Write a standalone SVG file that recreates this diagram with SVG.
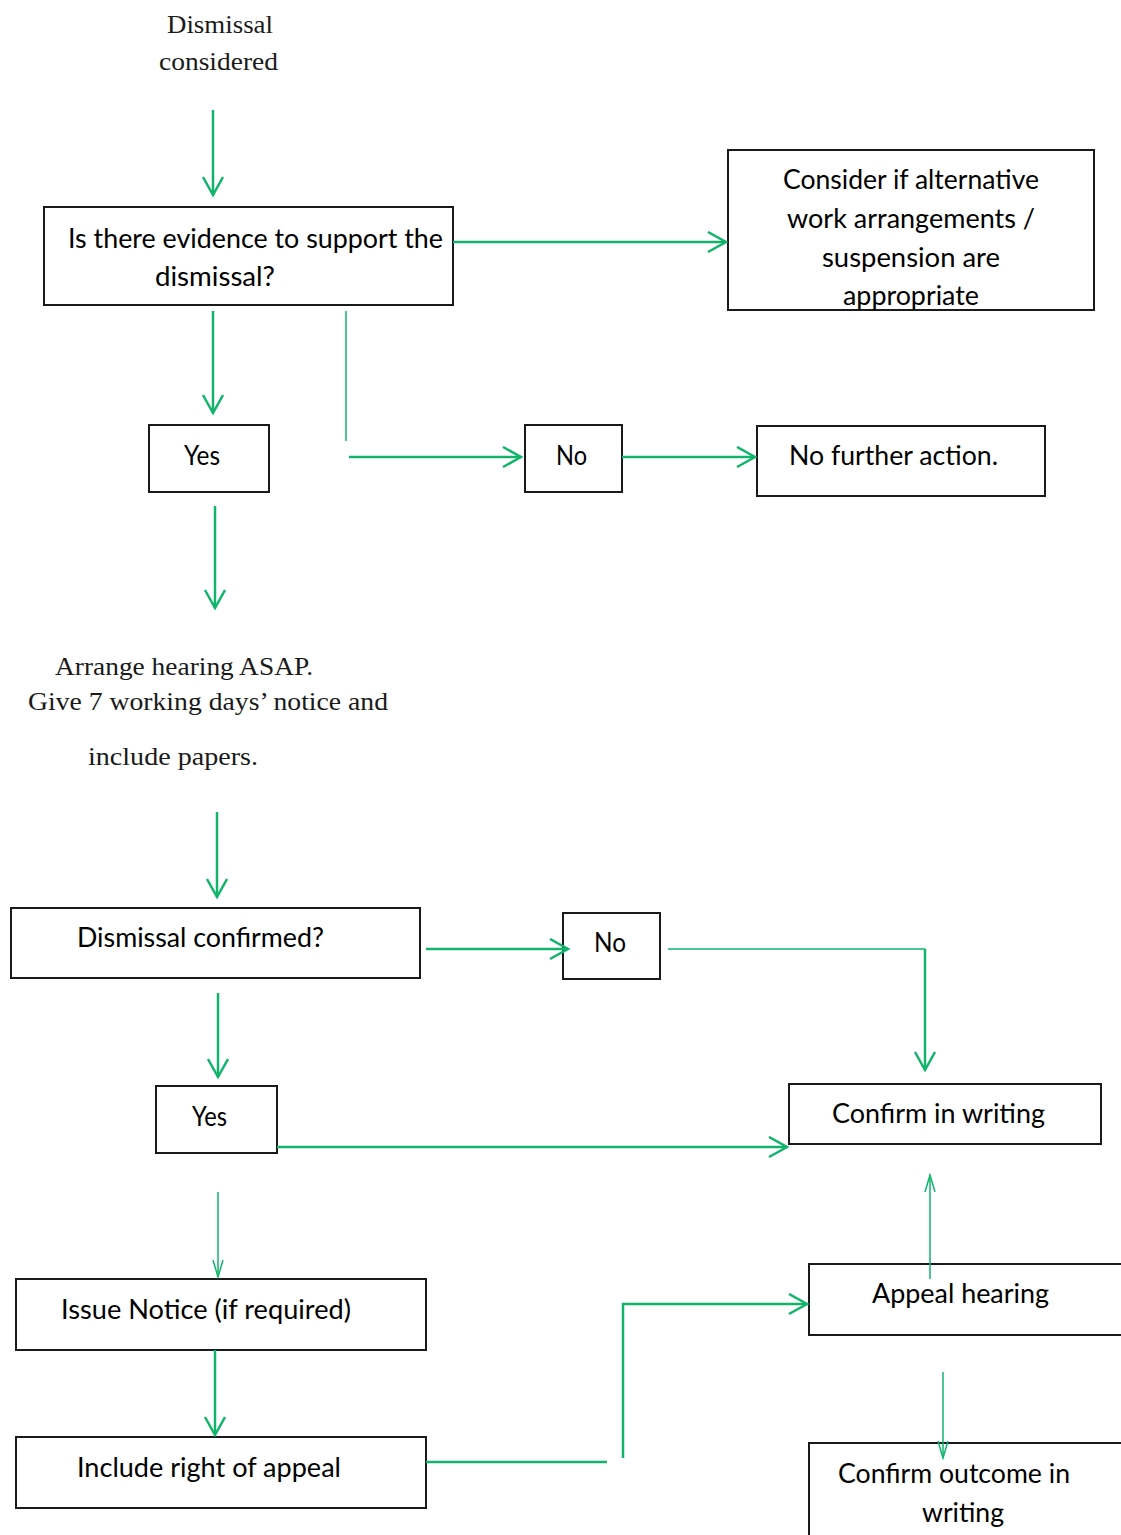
<svg xmlns="http://www.w3.org/2000/svg" width="1121" height="1535" viewBox="0 0 1121 1535">
<style>
.box{fill:#fff;stroke:#1a1a1a;stroke-width:2}
.t{font-family:Lato,"Open Sans","Liberation Sans",sans-serif;font-size:26px;fill:#000}
.s{font-family:"Liberation Serif","DejaVu Serif",serif;font-size:26px;fill:#1a1a1a}
.c{fill:none;stroke:#12b46c;stroke-width:2.5}
.ct{fill:none;stroke:#12b46c;stroke-width:1.5}
</style>
<defs>
<marker id="ah" markerUnits="userSpaceOnUse" markerWidth="22" markerHeight="24" refX="19" refY="11" orient="auto" viewBox="0 0 22 24">
<path d="M1,1 L19,11 L1,21" fill="none" stroke="#12b46c" stroke-width="2.5"/>
</marker>
<marker id="aht" markerUnits="userSpaceOnUse" markerWidth="20" markerHeight="14" refX="18" refY="6" orient="auto" viewBox="0 0 20 14">
<path d="M1,1 L18,6 L1,11" fill="none" stroke="#12b46c" stroke-width="1.5"/>
</marker>
</defs>

<g id="start">
<text class="s" x="167" y="33" textLength="106" lengthAdjust="spacingAndGlyphs">Dismissal</text>
<text class="s" x="159" y="70" textLength="119" lengthAdjust="spacingAndGlyphs">considered</text>
</g>

<g id="evidence">
<rect class="box" x="44" y="207" width="409" height="98"/>
<text class="t" x="68" y="248" textLength="375" lengthAdjust="spacingAndGlyphs">Is there evidence to support the</text>
<text class="t" x="155" y="286" textLength="120" lengthAdjust="spacingAndGlyphs">dismissal?</text>
</g>

<g id="alternative">
<rect class="box" x="728" y="150" width="366" height="160"/>
<text class="t" x="783" y="189" textLength="256" lengthAdjust="spacingAndGlyphs">Consider if alternative</text>
<text class="t" x="787" y="228" textLength="248" lengthAdjust="spacingAndGlyphs">work arrangements /</text>
<text class="t" x="822" y="267" textLength="178" lengthAdjust="spacingAndGlyphs">suspension are</text>
<text class="t" x="843" y="305" textLength="136" lengthAdjust="spacingAndGlyphs">appropriate</text>
</g>

<g id="yes1">
<rect class="box" x="149" y="425" width="120" height="67"/>
<text class="t" x="184" y="465" textLength="36" lengthAdjust="spacingAndGlyphs">Yes</text>
</g>

<g id="no1">
<rect class="box" x="525" y="425" width="97" height="67"/>
<text class="t" x="556" y="465" textLength="31" lengthAdjust="spacingAndGlyphs">No</text>
</g>

<g id="nofurther">
<rect class="box" x="757" y="426" width="288" height="70"/>
<text class="t" x="789" y="465" textLength="209" lengthAdjust="spacingAndGlyphs">No further action.</text>
</g>

<g id="arrange">
<text class="s" x="55" y="675" textLength="258" lengthAdjust="spacingAndGlyphs">Arrange hearing ASAP.</text>
<text class="s" x="28" y="710" textLength="360" lengthAdjust="spacingAndGlyphs">Give 7 working days’ notice and</text>
<text class="s" x="88" y="765" textLength="170" lengthAdjust="spacingAndGlyphs">include papers.</text>
</g>

<g id="confirmed">
<rect class="box" x="11" y="908" width="409" height="70"/>
<text class="t" x="77" y="947" textLength="247" lengthAdjust="spacingAndGlyphs">Dismissal confirmed?</text>
</g>

<g id="no2">
<rect class="box" x="563" y="913" width="97" height="66"/>
<text class="t" x="594" y="952" textLength="32" lengthAdjust="spacingAndGlyphs">No</text>
</g>

<g id="confirmwriting">
<rect class="box" x="789" y="1084" width="312" height="60"/>
<text class="t" x="832" y="1123" textLength="213" lengthAdjust="spacingAndGlyphs">Confirm in writing</text>
</g>

<g id="yes2">
<rect class="box" x="156" y="1086" width="121" height="67"/>
<text class="t" x="192" y="1126" textLength="35" lengthAdjust="spacingAndGlyphs">Yes</text>
</g>

<g id="notice">
<rect class="box" x="16" y="1279" width="410" height="71"/>
<text class="t" x="61" y="1319" textLength="290" lengthAdjust="spacingAndGlyphs">Issue Notice (if required)</text>
</g>

<g id="rightappeal">
<rect class="box" x="16" y="1437" width="410" height="71"/>
<text class="t" x="77" y="1477" textLength="264" lengthAdjust="spacingAndGlyphs">Include right of appeal</text>
</g>

<g id="appeal">
<rect class="box" x="809" y="1264" width="320" height="71"/>
<text class="t" x="872" y="1303" textLength="177" lengthAdjust="spacingAndGlyphs">Appeal hearing</text>
</g>

<g id="outcome">
<rect class="box" x="809" y="1443" width="320" height="110"/>
<text class="t" x="838" y="1483" textLength="232" lengthAdjust="spacingAndGlyphs">Confirm outcome in</text>
<text class="t" x="922" y="1522" textLength="82" lengthAdjust="spacingAndGlyphs">writing</text>
</g>

<g id="connectors">
<path class="c" d="M213,110 V195" marker-end="url(#ah)"/>
<path class="c" d="M453,242 H726" marker-end="url(#ah)"/>
<path class="c" d="M213,311 V413" marker-end="url(#ah)"/>
<path class="ct" d="M346,311 V441"/>
<path class="c" d="M349,457 H521" marker-end="url(#ah)"/>
<path class="c" d="M622,457 H755" marker-end="url(#ah)"/>
<path class="c" d="M215,506 V608" marker-end="url(#ah)"/>
<path class="c" d="M217,812 V897" marker-end="url(#ah)"/>
<path class="c" d="M426,949 H568" marker-end="url(#ah)"/>
<path class="ct" d="M668,949 H925"/>
<path class="c" d="M925,949 V1070" marker-end="url(#ah)"/>
<path class="c" d="M218,993 V1077" marker-end="url(#ah)"/>
<path class="c" d="M277,1147 H787" marker-end="url(#ah)"/>
<path class="ct" d="M218,1192 V1277" marker-end="url(#aht)"/>
<path class="c" d="M215,1350 V1435" marker-end="url(#ah)"/>
<path class="c" d="M426,1462 H607"/>
<path class="c" d="M623,1458 V1304 H807" marker-end="url(#ah)"/>
<path class="ct" d="M930,1279 V1175" marker-end="url(#aht)"/>
<path class="ct" d="M943,1372 V1458" marker-end="url(#aht)"/>
</g>
</svg>
